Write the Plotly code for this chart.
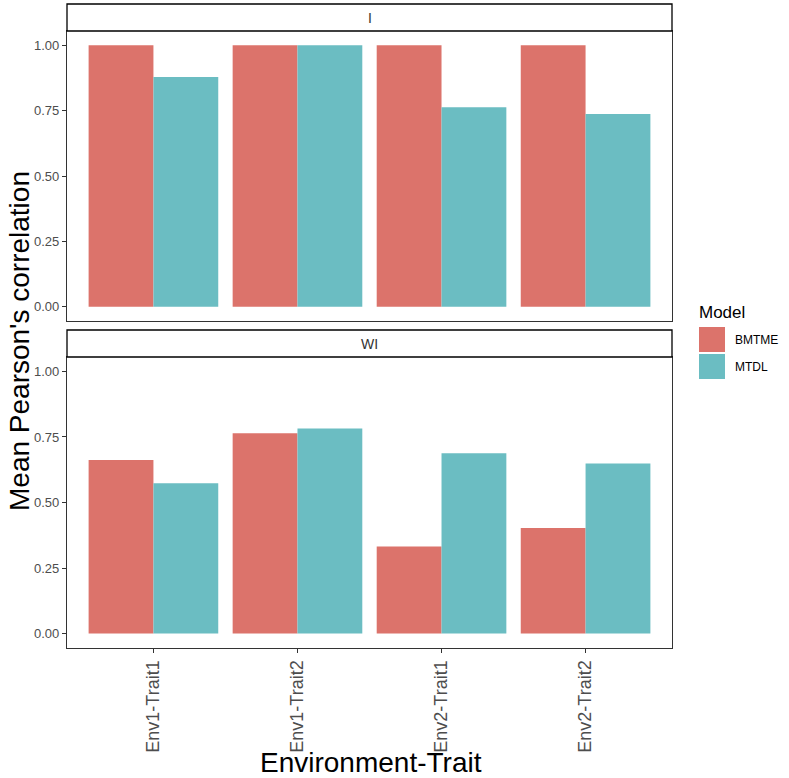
import plotly.graph_objects as go

categories = ["Env1-Trait1", "Env1-Trait2", "Env2-Trait1", "Env2-Trait2"]
models = ["BMTME", "MTDL"]
panels = ["I", "WI"]
I_BMTME = [1.0, 1.0, 1.0, 1.0]
I_MTDL = [0.879, 1.0, 0.763, 0.737]
WI_BMTME = [0.662, 0.764, 0.332, 0.403]
WI_MTDL = [0.573, 0.782, 0.688, 0.649]
yticks = [0.0, 0.25, 0.5, 0.75, 1.0]
ytick_text = ["0.00", "0.25", "0.50", "0.75", "1.00"]
colors = {"BMTME": "#DC736B", "MTDL": "#6BBDC2"}

W, H = 789, 778
ML, MR, MT, MB = 67, 117, 4, 130
PW, PH = W - ML - MR, H - MT - MB


def px_x(px):
    return (px - ML) / PW


def px_y(py):
    return (H - MB - py) / PH


fig = go.Figure()
data = {"I": {"BMTME": I_BMTME, "MTDL": I_MTDL},
        "WI": {"BMTME": WI_BMTME, "MTDL": WI_MTDL}}
axes = {"I": ("x2", "y2"), "WI": ("x", "y")}
for p in panels:
    for m in models:
        fig.add_trace(go.Bar(x=categories, y=data[p][m], name=m,
                             marker=dict(color=colors[m], line=dict(width=0)),
                             xaxis=axes[p][0], yaxis=axes[p][1],
                             showlegend=False))

line_col = "#333333"
tick_col = "#4D4D4D"
yax = dict(range=[-0.055, 1.055], tickvals=yticks, ticktext=ytick_text,
           tickfont=dict(size=13, color=tick_col, family="Liberation Sans, Arial"),
           ticks="outside", ticklen=4, tickcolor=line_col, showgrid=False,
           zeroline=False, showline=True, mirror=True, linecolor=line_col,
           linewidth=1.2)
xax = dict(range=[-0.6, 3.6], showgrid=False, zeroline=False, showline=True,
           mirror=True, linecolor=line_col, linewidth=1.2)

top_bot, top_top = px_y(321), px_y(31)
bot_bot, bot_top = px_y(648), px_y(357)

fig.update_layout(
    width=W, height=H, margin=dict(l=ML, r=MR, t=MT, b=MB),
    plot_bgcolor="white", paper_bgcolor="white",
    barmode="group", bargap=0.1, bargroupgap=0,
    showlegend=False,
    font=dict(family="Liberation Sans, Arial", color="black"),
    xaxis=dict(**xax, domain=[0, 1], anchor="y", ticks="outside", ticklen=4,
               tickcolor=line_col, tickangle=-90,
               tickfont=dict(size=18, color=tick_col, family="Liberation Sans, Arial")),
    yaxis=dict(**yax, domain=[max(bot_bot, 0), bot_top], anchor="x"),
    xaxis2=dict(**xax, domain=[0, 1], anchor="y2", showticklabels=False, ticks=""),
    yaxis2=dict(**yax, domain=[top_bot, top_top], anchor="x2"),
)

# facet strips
shapes = []
annotations = []
for label, (s_top, s_bot) in {"I": (4, 31), "WI": (330, 357)}.items():
    shapes.append(dict(type="rect", xref="paper", yref="paper",
                       x0=0, x1=1, y0=px_y(s_bot), y1=px_y(s_top),
                       fillcolor="white", line=dict(color="black", width=1.3)))
    annotations.append(dict(text=label, xref="paper", yref="paper",
                            x=0.5, y=px_y((s_top + s_bot) / 2),
                            xanchor="center", yanchor="middle", showarrow=False,
                            font=dict(size=14, color="#333333")))

# axis titles
annotations.append(dict(text="Mean Pearson's correlation", xref="paper", yref="paper",
                        x=px_x(19), y=px_y(341), textangle=-90,
                        xanchor="center", yanchor="middle", showarrow=False,
                        font=dict(size=28, color="black")))
annotations.append(dict(text="Environment-Trait", xref="paper", yref="paper",
                        x=px_x(371), y=px_y(762), xanchor="center", yanchor="middle",
                        showarrow=False, font=dict(size=28, color="black")))

# legend
annotations.append(dict(text="Model", xref="paper", yref="paper",
                        x=px_x(697), y=px_y(312), xanchor="left", yanchor="middle",
                        showarrow=False, font=dict(size=17, color="black")))
for i, m in enumerate(models):
    y0 = 327 + i * 27
    shapes.append(dict(type="rect", xref="paper", yref="paper",
                       x0=px_x(699), x1=px_x(725), y0=px_y(y0 + 25), y1=px_y(y0),
                       fillcolor=colors[m], line=dict(width=0)))
    annotations.append(dict(text=m, xref="paper", yref="paper",
                            x=px_x(733), y=px_y(y0 + 12.5), xanchor="left",
                            yanchor="middle", showarrow=False,
                            font=dict(size=12, color="black")))

fig.update_layout(shapes=shapes, annotations=annotations)
fig.write_html("out.html", config={"displayModeBar": False},
               post_script="document.body.style.margin='0px';document.body.style.overflow='hidden';")
